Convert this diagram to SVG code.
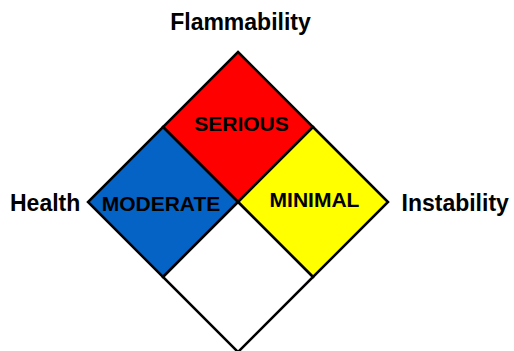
<svg xmlns="http://www.w3.org/2000/svg" width="514" height="351" viewBox="0 0 514 351">
<style>
.q{stroke:#000;stroke-width:2.5;stroke-linejoin:miter}
.t{font-family:"Liberation Sans",Arial,sans-serif;font-weight:bold;fill:#000}
.title{font-size:23px}
.lab{font-size:21px;text-anchor:middle}
</style>
<rect width="514" height="351" fill="#fff"/>
<g id="flammability">
<polygon class="q" points="238,52 313,127 238,202 163,127" fill="#FF0000"/>
<text class="t lab" x="241.5" y="131">SERIOUS</text>
</g>
<g id="health">
<polygon class="q" points="163,127 238,202 163,277 88,202" fill="#0563C6"/>
<text class="t lab" x="161" y="211">MODERATE</text>
</g>
<g id="instability">
<polygon class="q" points="313,127 388,202 313,277 238,202" fill="#FFFF00"/>
<text class="t lab" x="314.5" y="207">MINIMAL</text>
</g>
<g id="special">
<polygon class="q" points="238,202 313,277 238,352 163,277" fill="#FFFFFF"/>
</g>
<g id="labels">
<text class="t title" x="240.5" y="29.5" text-anchor="middle">Flammability</text>
<text class="t title" x="10" y="211">Health</text>
<text class="t title" x="401.5" y="210.5">Instability</text>
</g>
</svg>
